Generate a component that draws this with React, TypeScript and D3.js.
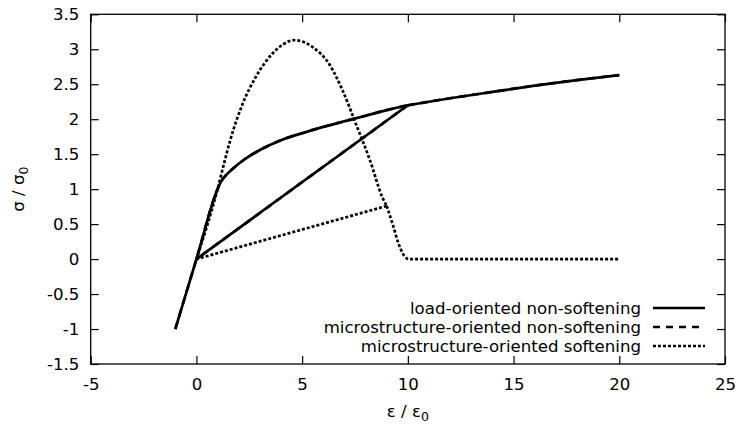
import { useEffect, useRef } from "react";
import * as d3 from "d3";

// axis ticks
const xTicks = [-5, 0, 5, 10, 15, 20, 25];
const yTicks = [-1.5, -1, -0.5, 0, 0.5, 1, 1.5, 2, 2.5, 3, 3.5];

// hardening (non-softening) branch
const hardenStrain = [-1, 0, 1, 1.15, 1.4, 1.75, 2.25, 3, 4, 5, 6, 7, 8, 9, 10];
const hardenStress = [-1, 0, 1, 1.1, 1.2, 1.3, 1.42, 1.56, 1.7, 1.8, 1.89, 1.97, 2.05, 2.13, 2.2];
const reloadStrain = [10, 12, 14, 16, 18, 20];
const reloadStress = [2.2, 2.3, 2.39, 2.48, 2.56, 2.63];
const unloadStrain = [10, 0];
const unloadStress = [2.2, 0];

// softening branch
const softStrain = [0, 1, 1.3, 1.6, 2.2, 2.8, 3.6, 4.1, 4.6, 5.1, 5.5, 6.3, 6.9, 7.6, 8.2, 8.8, 9];
const softStress = [0, 1, 1.36, 1.7, 2.23, 2.6, 2.94, 3.07, 3.13, 3.1, 3.03, 2.78, 2.42, 1.89, 1.42, 0.88, 0.76];
const softUnloadStrain = [9, 0];
const softUnloadStress = [0.76, 0];
const softTailStrain = [9, 9.3, 9.55, 9.8, 10.05, 15, 20];
const softTailStress = [0.76, 0.48, 0.23, 0.06, 0, 0, 0];

const seriesNames = [
  "load-oriented non-softening",
  "microstructure-oriented non-softening",
  "microstructure-oriented softening",
];

type Pt = [number, number];
const zip = (xs: number[], ys: number[]): Pt[] => xs.map((v, i) => [v, ys[i]]);

const FONT = "'DejaVu Sans', sans-serif";
const FS = 16.6;

const App = () => {
  const svgRef = useRef<SVGSVGElement | null>(null);

  useEffect(() => {
    const width = 737;
    const height = 426;
    const svg = d3.select(svgRef.current);
    svg.selectAll("*").remove();

    const left = 90.7;
    const right = 725;
    const top = 14.3;
    const bottom = 364;

    const x = d3.scaleLinear().domain([-5, 25]).range([left, right]);
    const y = d3.scaleLinear().domain([-1.5, 3.5]).range([bottom, top]);

    svg.attr("viewBox", `0 0 ${width} ${height}`);

    const styleAxis = (g: d3.Selection<SVGGElement, unknown, null, undefined>) => {
      g.select(".domain").remove();
      g.selectAll(".tick line").attr("stroke", "#000").attr("stroke-width", 1.2);
      g.selectAll(".tick text")
        .attr("fill", "#000")
        .attr("font-size", FS)
        .attr("font-family", FONT);
    };

    svg
      .append("g")
      .attr("transform", `translate(0,${bottom})`)
      .call(d3.axisBottom(x).tickValues(xTicks).tickSizeInner(-8).tickSizeOuter(0).tickPadding(14.2).tickFormat((d) => `${d}`))
      .call(styleAxis);
    svg
      .append("g")
      .attr("transform", `translate(0,${top})`)
      .call(d3.axisTop(x).tickValues(xTicks).tickSizeInner(-8).tickSizeOuter(0).tickFormat(() => ""))
      .call(styleAxis);
    svg
      .append("g")
      .attr("transform", `translate(${left},0)`)
      .call(d3.axisLeft(y).tickValues(yTicks).tickSizeInner(-8).tickSizeOuter(0).tickPadding(11.4).tickFormat((d) => `${d}`))
      .call(styleAxis);
    svg
      .append("g")
      .attr("transform", `translate(${right},0)`)
      .call(d3.axisRight(y).tickValues(yTicks).tickSizeInner(-8).tickSizeOuter(0).tickFormat(() => ""))
      .call(styleAxis);

    svg
      .append("rect")
      .attr("x", left)
      .attr("y", top)
      .attr("width", right - left)
      .attr("height", bottom - top)
      .attr("fill", "none")
      .attr("stroke", "#000")
      .attr("stroke-width", 1.3);

    const curve = d3
      .line<Pt>()
      .x((d) => x(d[0]))
      .y((d) => y(d[1]))
      .curve(d3.curveMonotoneX);

    const hardSegs = [
      zip(hardenStrain, hardenStress),
      zip(unloadStrain, unloadStress),
      zip(reloadStrain, reloadStress),
    ];
    const softSegs = [
      zip(softStrain, softStress),
      zip(softUnloadStrain, softUnloadStress),
      zip(softTailStrain, softTailStress),
    ];

    const styles = [
      { dash: null, segs: hardSegs },
      { dash: "7,6", segs: hardSegs },
      { dash: "3,2", segs: softSegs },
    ];

    styles.forEach((s) => {
      s.segs.forEach((seg) => {
        const p = svg
          .append("path")
          .datum(seg)
          .attr("fill", "none")
          .attr("stroke", "#000")
          .attr("stroke-width", 2.7)
          .attr("stroke-linejoin", "round")
          .attr("d", curve);
        if (s.dash) p.attr("stroke-dasharray", s.dash);
      });
    });

    // legend
    const legend = svg.append("g");
    seriesNames.forEach((name, i) => {
      const ly = 308 + i * 19;
      legend
        .append("text")
        .attr("x", 641)
        .attr("y", ly)
        .attr("dy", "0.35em")
        .attr("text-anchor", "end")
        .attr("font-size", FS)
        .attr("font-family", FONT)
        .attr("fill", "#000")
        .text(name);
      const l = legend
        .append("line")
        .attr("x1", 653)
        .attr("x2", 705)
        .attr("y1", ly)
        .attr("y2", ly)
        .attr("stroke", "#000")
        .attr("stroke-width", 2.7);
      if (styles[i].dash) l.attr("stroke-dasharray", styles[i].dash as string);
    });

    // axis titles
    const xt = svg
      .append("text")
      .attr("x", (left + right) / 2)
      .attr("y", 417)
      .attr("text-anchor", "middle")
      .attr("font-size", FS)
      .attr("font-family", FONT)
      .attr("fill", "#000");
    xt.append("tspan").text("ε / ε");
    xt.append("tspan").attr("font-size", 12.5).attr("dy", 4).text("0");

    const yt = svg
      .append("text")
      .attr("transform", `translate(24,${(top + bottom) / 2}) rotate(-90)`)
      .attr("text-anchor", "middle")
      .attr("font-size", FS)
      .attr("font-family", FONT)
      .attr("fill", "#000");
    yt.append("tspan").text("σ / σ");
    yt.append("tspan").attr("font-size", 12.5).attr("dy", 4).text("0");
  }, []);

  return (
    <svg
      ref={svgRef}
      width={737}
      height={426}
      style={{ position: "absolute", left: 0, top: 0, background: "#fff" }}
      role="img"
      aria-label="Stress strain chart"
    />
  );
};

export default App;
